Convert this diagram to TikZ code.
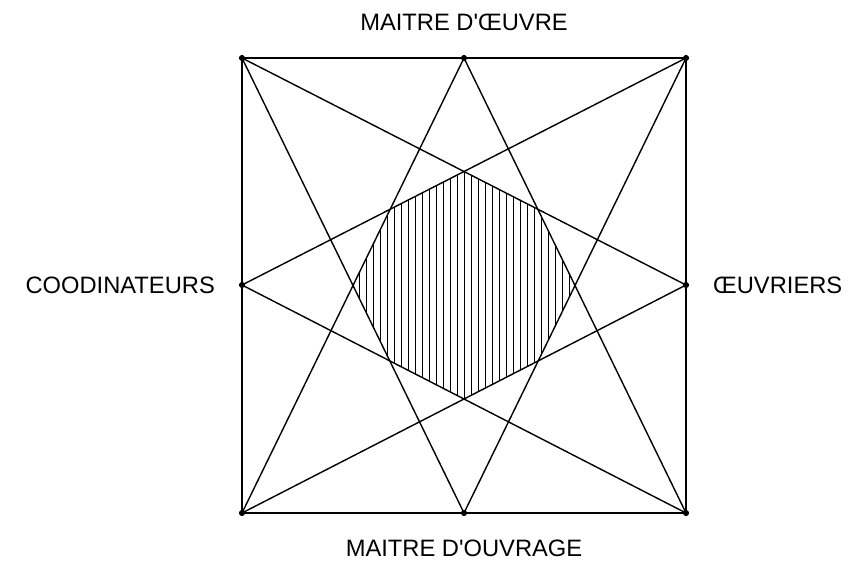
\documentclass[tikz,border=0pt]{standalone}
\usepackage{fontspec}
\setmainfont{Liberation Sans}
\usetikzlibrary{positioning}

\begin{document}
\begin{tikzpicture}[x=0.02cm, y=-0.02cm,
  pt/.style={circle, fill=black, inner sep=0pt, minimum size=3.5pt},
  lbl/.style={font=\fontsize{13.5}{16}\selectfont},
  edge/.style={line width=0.8pt},
  hatch/.style={line width=0.45pt},
  node distance=0.35cm
]
  \useasboundingbox (0,0) rectangle (856,562);
  % corners and middles of the sides
  \node[pt] (tl) at (242,58)  {};
  \node[pt] (tr) at (686,58)  {};
  \node[pt] (br) at (686,513) {};
  \node[pt] (bl) at (242,513) {};
  \node[pt] (tm) at (464,58)  {};
  \node[pt] (bm) at (464,513) {};
  \node[pt] (lm) at (242,285) {};
  \node[pt] (rm) at (686,285) {};
  % labels
  \node[lbl, above=of tm] (moe) {MAITRE D\textquotesingle ŒUVRE};
  \node[lbl, below=of bm] (mog) {MAITRE D\textquotesingle OUVRAGE};
  \node[lbl, left=of lm]  (coo) {COODINATEURS};
  \node[lbl, right=of rm] (ouv) {ŒUVRIERS};
  % hatched centre
  \begin{scope}
    \clip (tl.center) -- (rm.center) -- (br.center) -- (bl.center) -- cycle;
    \clip (tl.center) -- (tr.center) -- (br.center) -- (bm.center) -- cycle;
    \clip (tr.center) -- (br.center) -- (bl.center) -- (lm.center) -- cycle;
    \clip (tr.center) -- (bm.center) -- (bl.center) -- (tl.center) -- cycle;
    \clip (br.center) -- (tm.center) -- (tl.center) -- (bl.center) -- cycle;
    \clip (br.center) -- (lm.center) -- (tl.center) -- (tr.center) -- cycle;
    \clip (bl.center) -- (tm.center) -- (tr.center) -- (br.center) -- cycle;
    \clip (bl.center) -- (rm.center) -- (tr.center) -- (tl.center) -- cycle;
    \foreach \x in {352,359,...,580}
      \draw[hatch] (\x,150) -- (\x,420);
  \end{scope}
  % square
  \draw[edge] (tl.center) -- (tr.center) -- (br.center) -- (bl.center) -- cycle;
  % star
  \draw[edge] (tl.center) -- (rm.center);
  \draw[edge] (tl.center) -- (bm.center);
  \draw[edge] (tr.center) -- (lm.center);
  \draw[edge] (tr.center) -- (bm.center);
  \draw[edge] (br.center) -- (tm.center);
  \draw[edge] (br.center) -- (lm.center);
  \draw[edge] (bl.center) -- (tm.center);
  \draw[edge] (bl.center) -- (rm.center);
\end{tikzpicture}
\end{document}
